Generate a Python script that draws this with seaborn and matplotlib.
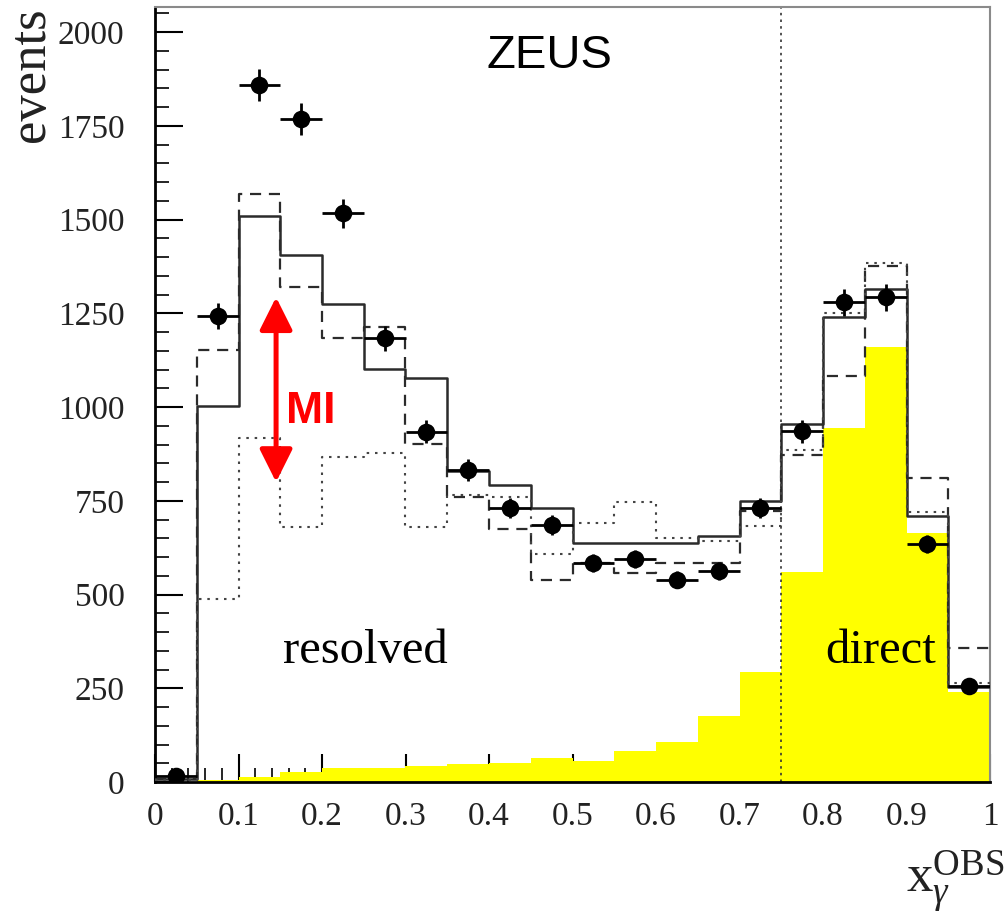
import numpy as np
import pandas as pd
import matplotlib
matplotlib.use("Agg")
import matplotlib.pyplot as plt
import seaborn as sns

# Binning of x_gamma^OBS
bin_edges = [0.0, 0.05, 0.1, 0.15, 0.2, 0.25, 0.3, 0.35, 0.4, 0.45, 0.5,
             0.55, 0.6, 0.65, 0.7, 0.75, 0.8, 0.85, 0.9, 0.95, 1.0]
bin_centers = [0.025, 0.075, 0.125, 0.175, 0.225, 0.275, 0.325, 0.375, 0.425, 0.475,
               0.525, 0.575, 0.625, 0.675, 0.725, 0.775, 0.825, 0.875, 0.925, 0.975]

# ZEUS data
data_events = [15, 1242, 1858, 1768, 1517, 1183, 934, 832, 731, 685,
               583, 595, 540, 562, 730, 935, 1280, 1293, 635, 255]
data_errors = [4, 35, 43, 42, 39, 34, 31, 29, 27, 26,
               24, 24, 23, 24, 27, 31, 36, 36, 25, 16]

# Monte Carlo predictions
mc_solid = [8, 1003, 1509, 1405, 1275, 1101, 1077, 830, 792, 731,
            637, 637, 637, 656, 750, 955, 1240, 1315, 709, 254]
mc_dashed = [8, 1152, 1568, 1320, 1184, 1214, 901, 760, 675, 539,
             584, 557, 584, 584, 722, 872, 1083, 1375, 811, 358]
mc_dotted = [5, 488, 917, 680, 867, 877, 680, 765, 760, 608,
             691, 747, 650, 643, 683, 885, 1251, 1383, 720, 265]
mc_direct = [0, 5, 13, 27, 37, 38, 43, 48, 50, 64,
             57, 83, 107, 175, 293, 560, 944, 1161, 664, 240]

df = pd.DataFrame({
    "x": bin_centers,
    "data": data_events,
    "err": data_errors,
    "solid": mc_solid,
    "dashed": mc_dashed,
    "dotted": mc_dotted,
    "direct": mc_direct,
})

sns.set_theme(style="ticks")
plt.rcParams["font.family"] = ["Liberation Serif", "DejaVu Serif"]
plt.rcParams["mathtext.fontset"] = "custom"
plt.rcParams["mathtext.rm"] = "Liberation Serif"
plt.rcParams["mathtext.it"] = "Liberation Serif:italic"

fig = plt.figure(figsize=(10.06, 9.17), dpi=100)
ax = fig.add_axes([155 / 1006, 1 - 782 / 917, 835 / 1006, 775 / 917])

line_col = "#2b2b2b"

# direct contribution (yellow)
sns.histplot(data=df, x="x", weights="direct", bins=bin_edges, element="step",
             fill=True, color="#ffff00", alpha=1.0, linewidth=0, ax=ax, zorder=1)

# MC curves
sns.histplot(data=df, x="x", weights="solid", bins=bin_edges, element="step",
             fill=False, color=line_col, linewidth=1.8, ax=ax, zorder=3)
sns.histplot(data=df, x="x", weights="dashed", bins=bin_edges, element="step",
             fill=False, color=line_col, linewidth=1.6, linestyle=(0, (5, 3.5)),
             ax=ax, zorder=3)
sns.histplot(data=df, x="x", weights="dotted", bins=bin_edges, element="step",
             fill=False, color="#444444", linewidth=1.5, linestyle=(0, (1.2, 2.8)),
             ax=ax, zorder=3)

# data points with error bars
ax.errorbar(df["x"], df["data"], yerr=df["err"], xerr=0.025, fmt="none",
            ecolor="black", elinewidth=2.0, capsize=0, zorder=5)
sns.scatterplot(data=df, x="x", y="data", color="black", s=160, edgecolor="black",
                linewidth=0, ax=ax, zorder=6)

# resolved / direct boundary
ax.axvline(0.75, color="#333333", linewidth=1.2, linestyle=(0, (1.5, 2.5)), zorder=2)

ax.set_xlim(0, 1)
ax.set_ylim(0, 2067)
ax.set_xlabel("")
ax.set_ylabel("")

ax.set_xticks(np.arange(0, 1.01, 0.1))
ax.set_xticklabels(["0", "0.1", "0.2", "0.3", "0.4", "0.5", "0.6", "0.7", "0.8", "0.9", "1"])
ax.set_xticks(np.arange(0, 1.001, 0.02), minor=True)
ax.set_yticks(np.arange(0, 2001, 250))
ax.set_yticks(np.arange(0, 2051, 50), minor=True)

ax.tick_params(axis="both", which="both", direction="in", top=False, right=False,
               color="black")
ax.tick_params(axis="x", which="major", length=20, width=1.5, labelsize=24, pad=14,
               labelcolor="#222222")
ax.tick_params(axis="x", which="minor", length=10, width=1.2)
ax.tick_params(axis="y", which="major", length=20, width=1.5, labelsize=24, pad=22,
               labelcolor="#222222")
ax.tick_params(axis="y", which="minor", length=10, width=1.2)

for side in ["left", "bottom"]:
    ax.spines[side].set_color("black")
    ax.spines[side].set_linewidth(2.0)
for side in ["top", "right"]:
    ax.spines[side].set_color("#8a8a8a")
    ax.spines[side].set_linewidth(1.5)
    ax.spines[side].set_visible(True)

# annotations
ax.text(0.472, 1936, "ZEUS", family=["Liberation Sans", "DejaVu Sans"], fontsize=34,
        ha="center", va="center", color="black")
ax.text(0.252, 317, "resolved", fontsize=35, ha="center", va="baseline", color="black")
ax.text(0.869, 317, "direct", fontsize=35, ha="center", va="baseline", color="black")

ax.annotate("", xy=(0.145, 800), xytext=(0.145, 1293),
            arrowprops=dict(arrowstyle="<|-|>,head_length=0.5,head_width=0.25",
                            color="#ff0000", lw=3.6, mutation_scale=40,
                            shrinkA=0, shrinkB=0), zorder=7)
ax.text(0.157, 987, "MI", family=["Liberation Sans", "DejaVu Sans"], fontsize=32,
        fontweight="bold", color="#ff0000", ha="left", va="center", zorder=7)

fig.text(44 / 1006, 1 - 7 / 917, "events", rotation=90, rotation_mode="anchor",
         fontsize=38, ha="right", va="baseline", color="#222222")
fig.text(1004 / 1006, 1 - 915 / 917, r"$\mathrm{x}_{\gamma}^{\mathrm{OBS}}$",
         fontsize=38, ha="right", va="bottom", color="#222222")

fig.savefig("out.png", dpi=100)
